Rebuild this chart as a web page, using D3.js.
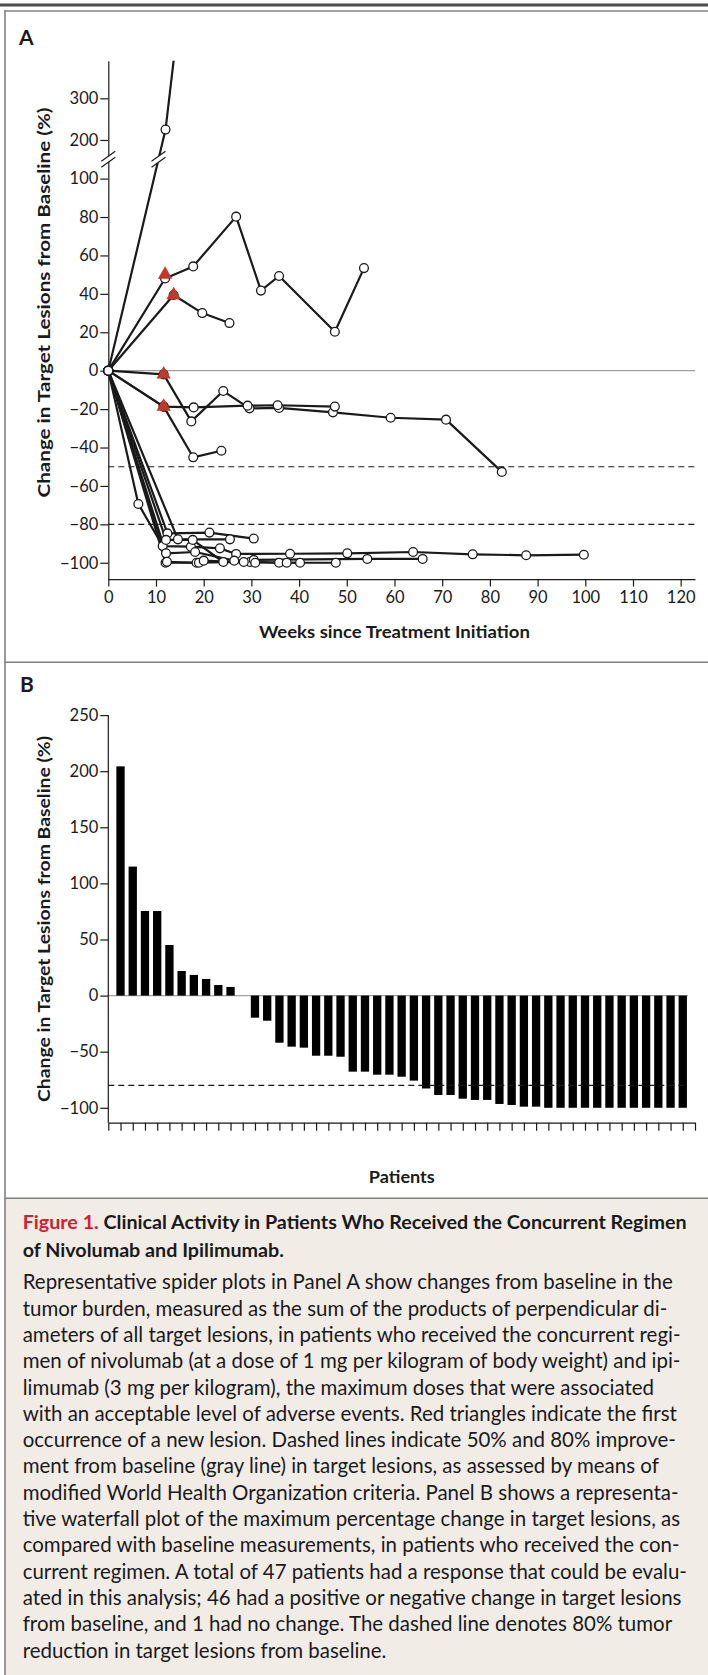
<!DOCTYPE html>
<html>
<head>
<meta charset="utf-8">
<script src="https://cdn.jsdelivr.net/npm/d3@7"></script>
<style>
  body { margin: 0; background: #fff; }
  svg { display: block; }
  text { font-family: Lato, "Open Sans", sans-serif; fill: #1a1a1a; }
</style>
</head>
<body>
<svg id="fig" width="708" height="1675"></svg>
<script>
// ---- Panel A data: [week, % change from baseline] per patient
const weekTicks = [0, 10, 20, 30, 40, 50, 60, 70, 80, 90, 100, 110, 120];
const lowTicks = [-100, -80, -60, -40, -20, 0, 20, 40, 60, 80, 100];
const highTicks = [200, 300];
const improveLines = [-50, -80];

const pt01 = [[0,0],[12,225],[14,420]];
const pt02 = [[0,0],[11.9,48],[17.8,54.3],[26.8,80.2],[32,41.7],[35.8,49.3],[47.5,20.3],[53.6,53.4]];
const pt03 = [[0,0],[13.7,39.4],[19.7,30],[25.4,24.8]];
const pt04 = [[0,0],[11.6,-1.9],[17.4,-26.4],[24.1,-10.6],[29.6,-19.6],[35.8,-19.4],[47.1,-21.7],[59.2,-24.5],[70.8,-25.5],[82.5,-52.7]];
const pt05 = [[0,0],[11.6,-18.7],[17.9,-19.1],[29.2,-18.2],[35.5,-18],[47.5,-18.7]];
const pt06 = [[0,0],[11.6,-18.7],[17.8,-45.1],[23.7,-41.7]];
const pt07 = [[0,0],[6.3,-69.4],[11.4,-91.3],[17.3,-91.6],[23.4,-92.5],[26.8,-95.4],[38.1,-95.3],[50.1,-95.1],[63.9,-94.4],[76.4,-95.6],[87.6,-96.1],[99.7,-95.8]];
const pt08 = [[0,0],[12.4,-84.7],[21.2,-84.3],[30.5,-87.4]];
const pt09 = [[0,0],[14.6,-87.8],[25.5,-87.8]];
const pt10 = [[0,0],[12.1,-88.1],[17.7,-88.1],[24.1,-99.6],[29.7,-99.6],[35.8,-100],[40.2,-100]];
const pt11 = [[0,0],[12.1,-95.1],[18.2,-94.4],[26.4,-98.9],[30.5,-98.5],[54.3,-98],[65.9,-98]];
const pt12 = [[0,0],[12,-100],[18.5,-100],[28.4,-99.6],[37.4,-100],[47.7,-100]];
const pt13 = [[0,0],[12.3,-99.5],[19,-100],[20,-98.9],[30.8,-100]];
const spiderPatients = [pt01, pt02, pt03, pt04, pt05, pt06, pt07, pt08, pt09, pt10, pt11, pt12, pt13];

// red triangles: first occurrence of a new lesion
const newLesions = [[11.9,50],[13.7,39.4],[11.6,-1.9],[11.6,-18.7]];

// ---- Panel B data: best % change per patient (waterfall), 47 patients
const waterfallValues = [204.3, 115, 75.4, 75.4, 45.1, 21.9, 18.4, 14.8, 9.4, 7.7, 0,
  -19.7, -22.4, -42, -45.5, -46.4, -53.6, -53.6, -54.5, -67.8, -67.8, -70.5, -70.5,
  -72.3, -75.8, -82.8, -88.6, -88.6, -91.9, -93, -93, -96.6, -97.5, -99, -99,
  -100, -100, -100, -100, -100, -100, -100, -100, -100, -100, -100, -100];
const waterfallTicks = [250, 200, 150, 100, 50, 0, -50, -100];
const waterfallRef = -80;

// ---- caption text
const captionTitle = ["Figure 1.", " Clinical Activity in Patients Who Received the Concurrent Regimen", "of Nivolumab and Ipilimumab."];
const captionBody = [
  "Representative spider plots in Panel A show changes from baseline in the",
  "tumor burden, measured as the sum of the products of perpendicular di-",
  "ameters of all target lesions, in patients who received the concurrent regi-",
  "men of nivolumab (at a dose of 1 mg per kilogram of body weight) and ipi-",
  "limumab (3 mg per kilogram), the maximum doses that were associated",
  "with an acceptable level of adverse events. Red triangles indicate the first",
  "occurrence of a new lesion. Dashed lines indicate 50% and 80% improve-",
  "ment from baseline (gray line) in target lesions, as assessed by means of",
  "modified World Health Organization criteria. Panel B shows a representa-",
  "tive waterfall plot of the maximum percentage change in target lesions, as",
  "compared with baseline measurements, in patients who received the con-",
  "current regimen. A total of 47 patients had a response that could be evalu-",
  "ated in this analysis; 46 had a positive or negative change in target lesions",
  "from baseline, and 1 had no change. The dashed line denotes 80% tumor",
  "reduction in target lesions from baseline."
];

const svg = d3.select("#fig");
const ink = "#1a1a1a";

// frame
svg.append("rect").attr("x", 5).attr("y", 1198.3).attr("width", 703).attr("height", 477).attr("fill", "#f2ece7");
svg.append("line").attr("x1", 0).attr("x2", 708).attr("y1", 5).attr("y2", 5).attr("stroke", "#4d4d4d").attr("stroke-width", 3);
[11, 662.3, 1198.3].forEach(function(y) {
    svg.append("line").attr("x1", 4.5).attr("x2", 708).attr("y1", y).attr("y2", y).attr("stroke", "#808080").attr("stroke-width", 1.6);
});
svg.append("line").attr("x1", 5).attr("x2", 5).attr("y1", 10.2).attr("y2", 1675).attr("stroke", "#808080").attr("stroke-width", 1.6);

function styleAxis(g) {
    g.attr("font-family", null).attr("font-size", null);
    g.selectAll("text").style("font-size", "16.5px").attr("fill", ink);
    g.selectAll("line,path").attr("stroke", ink).attr("stroke-width", 1.2);
}

function drawBreak(parent, cx, cy) {
    // white gap + two parallel slashes
    let dx = 7, dy = 5, off = 3;
    parent.append("path")
        .attr("d", "M" + (cx - dx) + "," + (cy + dy + off) + "L" + (cx + dx) + "," + (cy - dy + off) +
                   "L" + (cx + dx) + "," + (cy - dy - off) + "L" + (cx - dx) + "," + (cy + dy - off) + "Z")
        .attr("fill", "#fff");
    [off, -off].forEach(function(o) {
        parent.append("line")
            .attr("x1", cx - dx).attr("y1", cy + dy + o)
            .attr("x2", cx + dx).attr("y2", cy - dy + o)
            .attr("stroke", ink).attr("stroke-width", 1.2);
    });
}

// ================= Panel A =================
let panelA = svg.append("g");
panelA.append("text").attr("x", 19).attr("y", 45).style("font-size", "21px").style("font-weight", "bold").text("A");

let xA = d3.scaleLinear().domain([0, 123]).range([108.3, 695]);
let yLow = d3.scaleLinear().domain([-108.5, 110]).range([579.1, 159.4]);
let yHigh = d3.scaleLinear().domain([155, 390]).range([158.75, 60.8]);
let yA = function(v) { return v > 110 ? yHigh(v) : yLow(v); };
let breakY = 159.2;

panelA.append("line").attr("x1", xA(0)).attr("x2", 695).attr("y1", yLow(0)).attr("y2", yLow(0))
    .attr("stroke", "#a0a0a0").attr("stroke-width", 1.3);
panelA.selectAll("line.ref").data(improveLines).enter().append("line")
    .attr("class", "ref")
    .attr("x1", xA(0)).attr("x2", 695)
    .attr("y1", function(d) { return yLow(d); }).attr("y2", function(d) { return yLow(d); })
    .attr("stroke", ink).attr("stroke-width", 1.2).attr("stroke-dasharray", "6,4");

let gXA = panelA.append("g").attr("transform", "translate(0," + yLow.range()[0] + ")")
    .call(d3.axisBottom(xA).tickValues(weekTicks).tickSize(7.5).tickPadding(5).tickSizeOuter(0));
styleAxis(gXA);
let gYL = panelA.append("g").attr("transform", "translate(" + xA(0) + ",0)")
    .call(d3.axisLeft(yLow).tickValues(lowTicks).tickSize(8).tickPadding(2).tickSizeOuter(0));
styleAxis(gYL);
let gYH = panelA.append("g").attr("transform", "translate(" + xA(0) + ",0)")
    .call(d3.axisLeft(yHigh).tickValues(highTicks).tickSize(8).tickPadding(2).tickSizeOuter(0));
styleAxis(gYH);
drawBreak(panelA, xA(0), breakY);

panelA.append("text").attr("x", 394.4).attr("y", 638.3).attr("text-anchor", "middle")
    .style("font-size", "17.5px").style("font-weight", "bold")
    .attr("textLength", 271).attr("lengthAdjust", "spacingAndGlyphs")
    .text("Weeks since Treatment Initiation");
panelA.append("text").attr("transform", "translate(49.5,302.5) rotate(-90)").attr("text-anchor", "middle")
    .style("font-size", "17.5px").style("font-weight", "bold")
    .attr("textLength", 390).attr("lengthAdjust", "spacingAndGlyphs")
    .text("Change in Target Lesions from Baseline (%)");

panelA.append("clipPath").attr("id", "clipA").append("rect")
    .attr("x", 100).attr("y", yHigh.range()[1]).attr("width", 600).attr("height", 530);

let line = d3.line().x(function(d) { return xA(d[0]); }).y(function(d) { return yA(d[1]); });
let plot = panelA.append("g").attr("clip-path", "url(#clipA)");
plot.selectAll("path.patient").data(spiderPatients).enter().append("path")
    .attr("class", "patient")
    .attr("d", line)
    .attr("fill", "none").attr("stroke", ink).attr("stroke-width", 2.2).attr("stroke-linejoin", "round");

// break mark on the steep line where it crosses the axis break
let p0 = [xA(pt01[0][0]), yA(pt01[0][1])], p1 = [xA(pt01[1][0]), yA(pt01[1][1])];
let t = (p0[1] - breakY) / (p0[1] - p1[1]);
drawBreak(plot, p0[0] + t * (p1[0] - p0[0]), breakY);

let pts = [];
spiderPatients.forEach(function(p) {
    p.forEach(function(d) { if (d[1] <= yHigh.domain()[1]) pts.push(d); });
});
plot.selectAll("circle.pt").data(pts).enter().append("circle")
    .attr("class", "pt")
    .attr("cx", function(d) { return xA(d[0]); })
    .attr("cy", function(d) { return yA(d[1]); })
    .attr("r", 4.4)
    .attr("fill", "#fff").attr("stroke", ink).attr("stroke-width", 1.3);

plot.selectAll("path.tri").data(newLesions).enter().append("path")
    .attr("class", "tri")
    .attr("d", d3.symbol().type(d3.symbolTriangle).size(90))
    .attr("transform", function(d) { return "translate(" + xA(d[0]) + "," + yA(d[1]) + ")"; })
    .attr("fill", "#c03a2b");

// ================= Panel B =================
let panelB = svg.append("g");
panelB.append("text").attr("x", 20).attr("y", 691.7).style("font-size", "21px").style("font-weight", "bold").text("B");

let xB = d3.scaleLinear().domain([0, waterfallValues.length + 1]).range([108.3, 695]);
let yB = d3.scaleLinear().domain([-113.3, 250]).range([1122.7, 715.1]);
let barW = 8.3;

panelB.append("line").attr("x1", xB(0)).attr("x2", 688).attr("y1", yB(0)).attr("y2", yB(0))
    .attr("stroke", "#a0a0a0").attr("stroke-width", 1.3);

panelB.selectAll("rect.bar").data(waterfallValues).enter().append("rect")
    .attr("class", "bar")
    .attr("x", function(d, i) { return xB(i + 1) - barW / 2; })
    .attr("y", function(d) { return yB(Math.max(0, d)); })
    .attr("width", barW)
    .attr("height", function(d) { return Math.abs(yB(d) - yB(0)); })
    .attr("fill", "#000");

panelB.append("line").attr("x1", xB(0)).attr("x2", 688).attr("y1", yB(waterfallRef)).attr("y2", yB(waterfallRef))
    .attr("stroke", ink).attr("stroke-width", 1.2).attr("stroke-dasharray", "6,4");

let gXB = panelB.append("g").attr("transform", "translate(0," + yB.range()[0] + ")")
    .call(d3.axisBottom(xB).tickValues(d3.range(0, waterfallValues.length + 2)).tickSize(8).tickFormat("").tickSizeOuter(0));
styleAxis(gXB);
let gYB = panelB.append("g").attr("transform", "translate(" + xB(0) + ",0)")
    .call(d3.axisLeft(yB).tickValues(waterfallTicks).tickSize(8).tickPadding(2).tickSizeOuter(0));
styleAxis(gYB);
// axis line starts at the top tick
gYB.select("path.domain").attr("d", "M0," + yB(250) + "V" + yB.range()[0]);

panelB.append("text").attr("x", 401.8).attr("y", 1183.3).attr("text-anchor", "middle")
    .style("font-size", "17.5px").style("font-weight", "bold")
    .attr("textLength", 66).attr("lengthAdjust", "spacingAndGlyphs")
    .text("Patients");
panelB.append("text").attr("transform", "translate(49.5,919) rotate(-90)").attr("text-anchor", "middle")
    .style("font-size", "17.5px").style("font-weight", "bold")
    .attr("textLength", 366).attr("lengthAdjust", "spacingAndGlyphs")
    .text("Change in Target Lesions from Baseline (%)");

// ================= Caption =================
let cap = svg.append("g");
let probe = cap.append("text").style("font-size", "18px").style("font-weight", "bold")
    .text(captionTitle[0] + captionTitle[1]);
let titleSize = 18 * 664.6 / probe.node().getComputedTextLength();
probe.remove();
probe = cap.append("text").style("font-size", "18px").text(captionBody[0]);
let bodySize = 18 * 650.6 / probe.node().getComputedTextLength();
probe.remove();

let t1 = cap.append("text").attr("x", 22.7).attr("y", 1229.3)
    .style("font-size", titleSize + "px").style("font-weight", "bold");
t1.append("tspan").style("fill", "#d0202e").text(captionTitle[0]);
t1.append("tspan").text(captionTitle[1]);
cap.append("text").attr("x", 22.7).attr("y", 1256.7)
    .style("font-size", titleSize + "px").style("font-weight", "bold")
    .text(captionTitle[2]);

cap.selectAll("text.body").data(captionBody).enter().append("text")
    .attr("class", "body")
    .attr("x", 22.7)
    .attr("y", function(d, i) { return 1289.3 + i * 26.3; })
    .style("font-size", bodySize + "px")
    .text(function(d) { return d; });
</script>
</body>
</html>
